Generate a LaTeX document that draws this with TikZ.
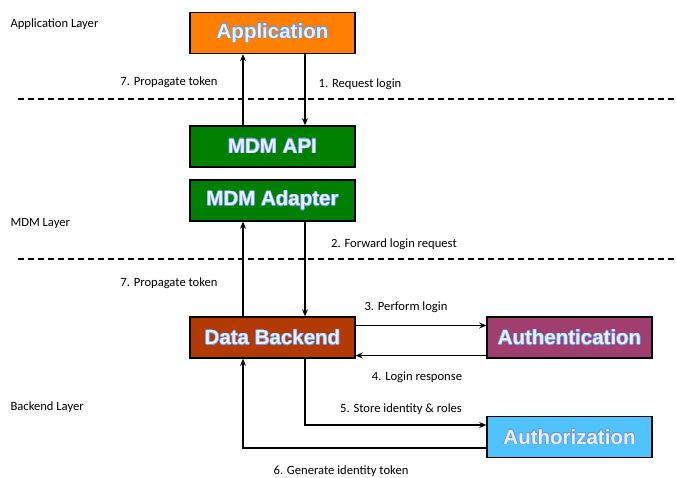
\documentclass[tikz,border=0pt]{standalone}
\usepackage{fontspec}
\setmainfont{Carlito}
\newfontfamily\boxfont{Liberation Sans}
\usepackage{contour}
\contourlength{0.5pt}
\usetikzlibrary{arrows.meta}

\definecolor{appOrange}{RGB}{255,128,0}
\definecolor{mdmGreen}{RGB}{0,128,0}
\definecolor{backRed}{RGB}{180,58,4}
\definecolor{authnPurple}{RGB}{160,62,110}
\definecolor{authzBlue}{RGB}{80,195,255}
\definecolor{glowBlue}{RGB}{110,150,230}
\definecolor{txtLight}{RGB}{230,242,255}

\tikzset{
  layerbox/.style={draw, line width=1.5pt, minimum width=165pt, minimum height=41pt, inner sep=0pt,
    font=\boxfont\bfseries\fontsize{20.5}{22}\selectfont, text=txtLight},
  lbl/.style={font=\fontsize{12.6}{14}\selectfont},
  arr/.style={line width=1.3pt, -{Stealth[length=7pt,width=6pt]}},
  sep/.style={line width=1.5pt, dash pattern=on 6pt off 4pt}
}
\newcommand{\boxtext}[1]{\contour{glowBlue}{#1}}

\begin{document}
\begin{tikzpicture}[x=1pt, y=-1pt]
\useasboundingbox (0,0) rectangle (677,478);
% layer separators
\draw [sep] (18,99) -- (677,99);
\draw [sep] (18,259) -- (677,259);
\node [lbl, anchor=west] (lyrApp) at (7,24) {Application Layer};
\node [lbl, anchor=west] (lyrMdm) at (7,223) {MDM Layer};
\node [lbl, anchor=west] (lyrBack) at (7,407) {Backend Layer};
% boxes
\node [layerbox, fill=appOrange] (app) at (272.5,33) {\boxtext{Application}};
\node [layerbox, fill=mdmGreen] (api) at (272.5,146.5) {\boxtext{MDM API}};
\node [layerbox, fill=mdmGreen] (adapter) at (272.5,200.5) {\boxtext{MDM Adapter}};
\node [layerbox, fill=backRed] (backend) at (272.5,337.5) {\boxtext{Data Backend}};
\node [layerbox, fill=authnPurple] (authn) at (569.5,337.5) {\boxtext{Authentication}};
\node [layerbox, fill=authzBlue] (authz) at (569.5,437) {\boxtext{Authorization}};
\coordinate (upX) at (243,0);
\coordinate (downX) at (305,0);
% connectors
\draw [arr] (upX |- api.north) -- (upX |- app.south);
\draw [arr] (downX |- app.south) -- (downX |- api.north);
\draw [arr] (upX |- backend.north) -- (upX |- adapter.south);
\draw [arr] (downX |- adapter.south) -- (downX |- backend.north);
\draw [arr] ([yshift=12pt]backend.east) -- ([yshift=12pt]authn.west);
\draw [arr] ([yshift=-18pt]authn.west) -- ([yshift=-18pt]backend.east);
\draw [arr] (downX |- backend.south) |- ([yshift=12pt]authz.west);
\draw [arr] ([yshift=-11pt]authz.west) -| (upX |- backend.south);
% labels
\node [lbl] (l7a) at (169,82) {7. Propagate token};
\node [lbl] (l1) at (360,84) {1. Request login};
\node [lbl] (l2) at (394,244) {2. Forward login request};
\node [lbl] (l7b) at (169,283) {7. Propagate token};
\node [lbl] (l3) at (406,307) {3. Perform login};
\node [lbl] (l4) at (417,377) {4. Login response};
\node [lbl] (l5) at (401,409) {5. Store identity \& roles};
\node [lbl] (l6) at (341,471) {6. Generate identity token};
\end{tikzpicture}
\end{document}
